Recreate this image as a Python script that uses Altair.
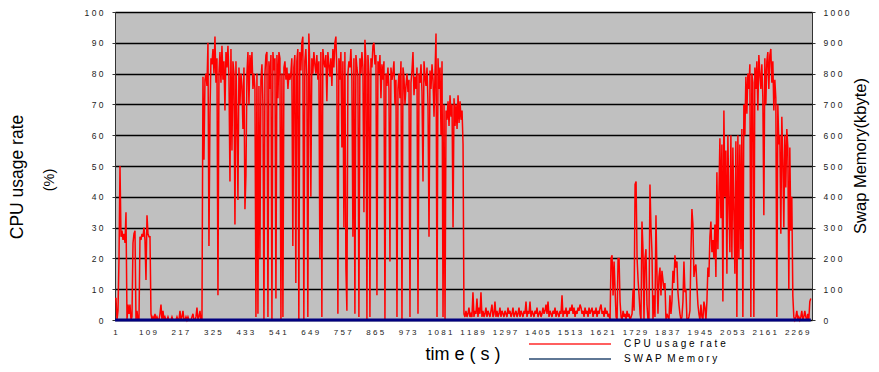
import altair as alt
import pandas as pd
import numpy as np

# CPU usage rate (%), in four consecutive time spans (s)
seg_spans = [(1, 583), (586, 1159), (1162, 1748), (1751, 2316)]

cpu_seg1 = [7, 7, 0, 3, 20, 50, 27, 29, 26, 28, 25, 35, 0, 5, 2, 5, 0, 1, 25, 28, 29, 0, 3, 0, 0,
            27, 26, 28, 27, 30, 26, 13, 34, 28, 27, 27, 2, 0,
            1, 0, 2, 0, 1, 0, 0, 2, 5, 0, 3, 0, 1, 0, 0, 1, 0, 0, 0, 1, 0, 0, 0, 0, 1, 0, 0, 3, 0, 1,
            3, 0, 0, 1, 0, 1, 0, 0, 0, 1, 2, 0, 0, 1, 4, 0, 1, 3, 0, 0,
            79, 52, 78, 80, 76, 90, 24, 67, 85, 83, 88, 80, 92, 77, 85, 8, 80, 87, 77, 89,
            78, 84, 68, 87, 82, 89, 79, 45, 88, 55, 84, 80, 31, 84, 65, 39, 82, 70, 80, 76,
            62, 82, 36, 47, 80, 87, 70, 86, 80, 87, 75, 80, 75, 1, 80, 2, 76, 20, 78, 83,
            70, 0, 80, 86, 87, 1, 84, 75, 86, 0, 87, 81, 85, 7, 86, 72, 87, 85, 0, 80,
            1, 82, 84, 78, 82, 75, 80, 78]

cpu_seg2 = [80, 85, 24, 82, 86, 12, 84, 88, 0, 87, 81, 90, 92, 0, 84, 88, 79, 1, 93, 82,
            40, 85, 80, 87, 83, 80, 86, 78, 84, 20, 87, 1, 88, 84, 82, 86, 71, 87, 83, 79,
            85, 76, 88, 82, 90, 92, 80, 2, 85, 78, 87, 56, 84, 30, 87, 17, 3, 80, 84, 82,
            88, 78, 27, 85, 2, 86, 82, 79, 1, 85, 80, 87, 82, 35, 91, 84, 0, 86, 80, 1,
            85, 82, 89, 90, 83, 86, 8, 84, 80, 86, 72, 83, 78, 84, 0, 80, 76, 82, 75, 19,
            82, 78, 80, 84, 70, 78, 1, 75, 80, 72, 84, 0, 82, 79, 70, 76, 80, 74, 78, 1,
            77, 81, 87, 73, 79, 75, 82, 2, 80, 77, 83, 74, 45, 84, 79, 76, 82, 70, 27, 81,
            75, 83, 78, 66, 80, 93, 1, 85, 75, 82, 60, 84, 1, 70, 0, 68, 65, 71, 63, 73,
            66, 70, 30, 72, 63, 70, 62, 73, 64, 71, 65, 68, 57]

cpu_seg3 = [2, 1, 3, 1, 2, 4, 1, 2, 1, 9, 1, 3, 2, 7, 1, 4, 2, 9, 1, 3, 1, 2, 4, 1, 3, 2, 1, 3, 5, 1,
            2, 6, 1, 3, 1, 2, 4, 1, 3, 2, 1, 3, 2, 1, 4, 2, 3, 1, 2, 4, 1, 2, 3, 1, 2, 4, 1, 3, 2, 1,
            3, 2, 6, 1, 3, 2, 6, 1, 3, 2, 1, 3, 2, 4, 1, 2, 3, 1, 2, 4, 2, 3, 5, 2, 6, 1, 3, 2, 1, 3,
            2, 4, 1, 3, 2, 1, 3, 2, 8, 1, 3, 2, 4, 1, 3, 2, 4, 3, 5, 2, 4, 1, 3, 2, 4, 3, 5, 4, 2, 3,
            1, 4, 2, 3, 1, 4, 2, 3, 4, 1, 3, 2, 4, 1, 3, 2, 4, 5, 2, 3, 1, 4, 2, 3, 1, 2, 0, 20, 21, 8,
            19, 10, 1, 0, 20, 20, 6, 1, 0, 3, 1, 2, 0, 3, 1, 2, 0, 1, 2, 10, 3, 44, 45, 20, 13, 8, 2]

cpu_seg4 = [0, 32, 23, 0, 20, 23, 5, 0, 0, 44, 30, 22, 0, 8, 1, 34, 15, 2, 14, 17, 8, 16, 13, 10,
            12, 0, 2, 1, 0, 8, 2, 6, 16, 12, 21, 17, 19, 9, 5, 2, 0, 1, 6, 19, 9, 10, 0, 0, 1, 3,
            22, 36, 31, 14, 17, 18, 11, 5, 2, 0, 5, 1, 0, 6, 4, 0, 6, 17, 14, 27, 32, 22, 26, 20,
            31, 14, 48, 23, 40, 59, 33, 57, 6, 68, 40, 55, 15, 60, 38, 22, 60, 20, 56, 35, 15, 58,
            1, 60, 20, 57, 23, 62, 1, 70, 60, 79, 67, 80, 75, 83, 1, 80, 77, 1, 82, 75, 84, 68, 86,
            80, 75, 83, 72, 34, 85, 70, 84, 87, 75, 86, 88, 77, 84, 68, 78, 72, 1, 70, 57, 60, 28,
            66, 52, 30, 60, 43, 62, 56, 10, 56, 29, 40, 8, 1, 0, 1, 3, 0, 1, 0, 1, 3, 0, 1, 3, 1, 0,
            2, 0, 6, 7]

# SWAP memory (kbyte): stays at zero for the whole run
swap_time = [1, 2316]
swap_kb = [0, 0]

x_tick_values = [1, 109, 217, 325, 433, 541, 649, 757, 865, 973, 1081, 1189, 1297, 1405,
                 1513, 1621, 1729, 1837, 1945, 2053, 2161, 2269]
cpu_tick_values = [0, 10, 20, 30, 40, 50, 60, 70, 80, 90, 100]
swap_tick_values = [0, 100, 200, 300, 400, 500, 600, 700, 800, 900, 1000]

legend_labels = ["CPU usage rate", "SWAP Memory"]

NB = "\u00a0"


def tracked(s):
    # wide letter spacing as in the original slide
    return (NB * 2).join(NB.join(list(w)) for w in s.split(" "))


# ---- build tables ----
rows = []
for (t0, t1), seg in zip(seg_spans, [cpu_seg1, cpu_seg2, cpu_seg3, cpu_seg4]):
    ts = np.linspace(t0, t1, len(seg))
    for t, v in zip(ts, seg):
        rows.append({"t": float(t), "cpu": v})
cpu_df = pd.DataFrame(rows)
swap_df = pd.DataFrame({"t": swap_time, "kb": swap_kb})

W, H = 697, 308
FONT = "Liberation Sans"
SPACED = "join(split(datum.label, ''), '" + NB + "')"

xscale = alt.Scale(domain=[1, 2320], nice=False, zero=False)
x_axis = alt.Axis(values=x_tick_values, format="d", labelExpr=SPACED, title=None,
                  ticks=False, domain=False, grid=False, labelFontSize=8,
                  labelFont=FONT, labelColor="#222", labelPadding=8,
                  labelOverlap=False, labelFlush=False)

cpu_line = alt.Chart(cpu_df).mark_line(color="#ff0000", strokeWidth=1.5).encode(
    x=alt.X("t:Q", scale=xscale, axis=x_axis),
    y=alt.Y("cpu:Q", scale=alt.Scale(domain=[0, 100], nice=False),
            axis=alt.Axis(orient="left", values=cpu_tick_values, format="d", title=None,
                          grid=True, gridColor="#000000", gridWidth=1.4, gridOpacity=1,
                          domain=True, domainColor="#333", tickColor="#333", tickSize=3,
                          labelFontSize=8.5, labelFont=FONT, labelColor="#222",
                          labelPadding=9, labelExpr=SPACED)),
)

swap_line = alt.Chart(swap_df).mark_line(color="#000080", strokeWidth=3).encode(
    x=alt.X("t:Q", scale=xscale, axis=x_axis),
    y=alt.Y("kb:Q", scale=alt.Scale(domain=[0, 1000], nice=False),
            axis=alt.Axis(orient="right", values=swap_tick_values, format="d", title=None,
                          grid=False, domain=False, tickColor="#333", tickSize=3,
                          labelFontSize=8.5, labelFont=FONT, labelColor="#222",
                          labelPadding=8, labelExpr=SPACED)),
)


def label_text(txt, x, y, size, angle=0, align="center", color="#000"):
    return alt.Chart(pd.DataFrame({"label": [txt]})).mark_text(
        font=FONT, fontSize=size, angle=angle, align=align, baseline="middle", color=color
    ).encode(text="label:N", x=alt.value(x), y=alt.value(y))


left_title = label_text("CPU usage rate", -97, 165, 17.5, angle=270)
left_unit = label_text("(%)", -65, 168, 14.5, angle=270)
right_title = label_text("Swap Memory(kbyte)", 746, 144, 16.5, angle=270)
x_title = label_text("tim e ( s )", 348, 343, 18)

leg_red = alt.Chart(pd.DataFrame({"s": [legend_labels[0]]})).mark_rule(
    color="#ff2a2a", strokeWidth=1.5).encode(x=alt.value(414), x2=alt.value(496), y=alt.value(332))
leg_blue = alt.Chart(pd.DataFrame({"s": [legend_labels[1]]})).mark_rule(
    color="#2a4a72", strokeWidth=1.5).encode(x=alt.value(414), x2=alt.value(496), y=alt.value(347))
leg_t1 = label_text(tracked(legend_labels[0]), 509, 332, 10, align="left")
leg_t2 = label_text(tracked(legend_labels[1]), 509, 347, 10, align="left")

chart = alt.layer(
    cpu_line, swap_line, left_title, left_unit, right_title, x_title,
    leg_red, leg_blue, leg_t1, leg_t2
).resolve_scale(y="independent").properties(
    width=W, height=H, autosize="none",
    padding={"left": 107, "top": 4, "right": 59, "bottom": 44},
    background="#ffffff",
).configure_view(fill="#c0c0c0", stroke="#333333", strokeWidth=1)

chart.save("out.html", embed_options={"renderer": "svg", "actions": False})
